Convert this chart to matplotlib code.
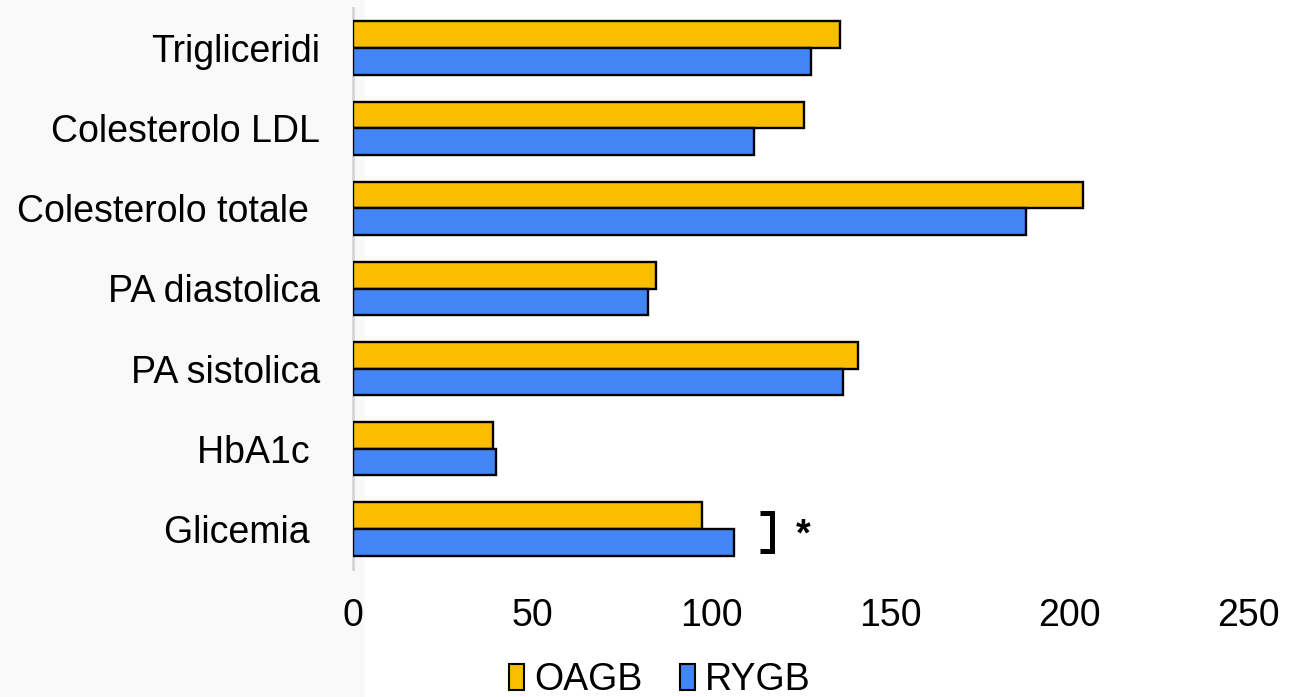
import matplotlib
matplotlib.use("Agg")
import matplotlib.pyplot as plt
from matplotlib.patches import Rectangle, Patch

plt.rcParams['font.family'] = ['Liberation Sans', 'DejaVu Sans']

categories = ["Trigliceridi", "Colesterolo LDL", "Colesterolo totale ",
              "PA diastolica", "PA sistolica", "HbA1c ", "Glicemia "]
oagb = [136, 126, 204, 84.5, 141, 39, 97.5]
rygb = [128, 112, 188, 82.5, 137, 40, 106.5]
series_names = ["OAGB", "RYGB"]
xticks = [0, 50, 100, 150, 200, 250]

c_oagb = "#FABD00"
c_rygb = "#4285F4"

fig = plt.figure(figsize=(13.01, 6.97), dpi=100)
fig.patch.set_facecolor("white")
fig.patches.append(Rectangle((0, 0), 365 / 1301, 1, transform=fig.transFigure,
                             facecolor="#f9f9f9", edgecolor="none", zorder=-5))

ax = fig.add_axes([353 / 1301, 1 - 569 / 697, (1248 - 353) / 1301, (569 - 8) / 697])
ax.set_facecolor("none")

n = len(categories)
pos = [n - 1 - i for i in range(n)]
h = 0.333
ax.barh([p + h / 2 for p in pos], oagb, height=h, color=c_oagb,
        edgecolor="black", linewidth=1.7, label=series_names[0], zorder=3)
ax.barh([p - h / 2 for p in pos], rygb, height=h, color=c_rygb,
        edgecolor="black", linewidth=1.7, label=series_names[1], zorder=3)

ax.set_xlim(0, 250)
ax.set_ylim(-0.5, n - 0.5)
ax.set_xticks(xticks)
ax.set_xticklabels([str(t) for t in xticks], fontsize=27)
ax.set_yticks(pos)
ax.set_yticklabels(categories, fontsize=27)
ax.tick_params(axis="x", length=0, pad=21)
ax.tick_params(axis="y", length=0, pad=24)
for s in ["top", "right", "bottom"]:
    ax.spines[s].set_visible(False)
ax.spines["left"].set_color("#d4d4d4")
ax.spines["left"].set_linewidth(2)

# significance bracket for Glicemia
g = pos[categories.index("Glicemia ")]
bx0, bx1 = 113.8, 117.0
ax.plot([bx0, bx1, bx1, bx0], [g + 0.2, g + 0.2, g - 0.27, g - 0.27],
        color="black", linewidth=3.6, solid_capstyle="butt",
        solid_joinstyle="miter", clip_on=False, zorder=4)
ax.text(125.7, g - 0.08, "*", fontsize=27, fontweight="bold",
        ha="center", va="center")

handles = [Patch(facecolor=c_oagb, edgecolor="black", linewidth=1.5),
           Patch(facecolor=c_rygb, edgecolor="black", linewidth=1.5)]
fig.legend(handles, series_names, loc="center", bbox_to_anchor=(0.507, 0.024),
           ncol=2, frameon=False, fontsize=27, handlelength=0.4,
           handleheight=0.7, handletextpad=0.27, columnspacing=1.0,
           borderpad=0, borderaxespad=0)

fig.savefig("out.png", dpi=100, facecolor=fig.get_facecolor())
